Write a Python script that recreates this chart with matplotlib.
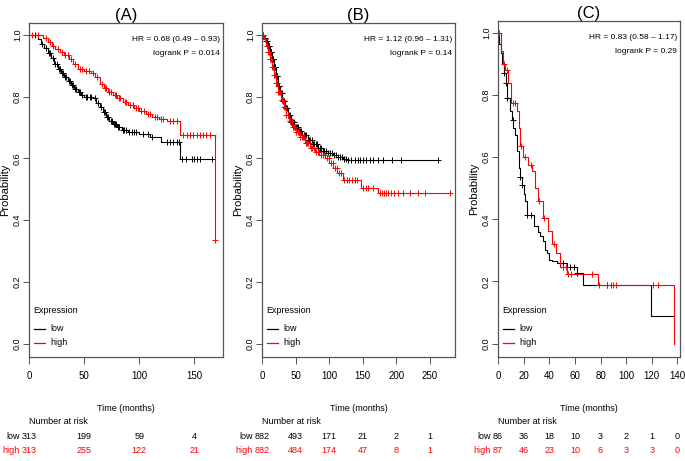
import numpy as np
import matplotlib
matplotlib.use("Agg")
import matplotlib.pyplot as plt
from matplotlib.transforms import blended_transform_factory

NARROW = ["Liberation Sans Narrow", "Liberation Sans", "DejaVu Sans"]
PLAIN = ["Liberation Sans", "DejaVu Sans"]
RED = "#ff0000"
BLACK = "#000000"

# ---- panel A (times in months, survival after each step) ----
a_low_t = [0, 8, 11, 14, 17, 20, 23, 26, 29, 32, 35, 38, 41, 44, 47, 50, 58, 61, 64, 67,
           70, 73, 76, 80, 84, 90, 100, 110, 120, 137]
a_low_s = [1.0, 0.985, 0.97, 0.958, 0.94, 0.925, 0.905, 0.89, 0.875, 0.862, 0.85, 0.838,
           0.826, 0.815, 0.806, 0.800, 0.795, 0.78, 0.765, 0.75, 0.735, 0.722, 0.712, 0.70,
           0.692, 0.686, 0.68, 0.668, 0.653, 0.598]
a_low_cens = [5, 12, 15, 18, 19, 22, 24, 25, 27, 28, 30, 31, 33, 34, 36, 37, 39, 40, 42, 43,
              45, 46, 48, 52, 53, 55, 56, 60, 63, 65, 68, 69, 71, 72, 74, 75, 77, 78, 79, 81,
              82, 85, 86, 88, 91, 93, 95, 97, 103, 108, 112, 125, 128, 131, 134, 136, 139,
              142, 148, 150, 152, 155, 166]
a_low_end = 166
a_high_t = [0, 13, 17, 21, 24, 28, 32, 36, 40, 44, 50, 56, 60, 64, 68, 72, 76, 80, 85, 90,
            95, 100, 106, 112, 118, 125, 137, 169]
a_high_s = [1.0, 0.99, 0.978, 0.965, 0.955, 0.945, 0.935, 0.922, 0.905, 0.89, 0.883, 0.877,
            0.862, 0.84, 0.828, 0.815, 0.806, 0.795, 0.783, 0.772, 0.762, 0.752, 0.742, 0.735,
            0.728, 0.722, 0.676, 0.337]
a_high_cens = [3, 8, 15, 19, 22, 26, 30, 33, 35, 38, 42, 46, 48, 52, 54, 58, 62, 66, 69, 70,
               73, 74, 78, 79, 82, 83, 87, 88, 92, 94, 97, 99, 102, 104, 108, 110, 114, 116,
               120, 122, 128, 131, 134, 140, 143, 146, 149, 152, 155, 158, 161, 164, 169]
a_high_end = 169

# ---- panel B ----
b_low_t = [0, 3, 6, 9, 12, 15, 18, 21, 24, 27, 30, 34, 38, 43, 48, 54, 60, 68, 75, 83, 90,
           98, 105, 113, 120, 128]
b_low_s = [1.0, 0.99, 0.98, 0.965, 0.945, 0.92, 0.895, 0.865, 0.835, 0.81, 0.785, 0.763,
           0.74, 0.718, 0.703, 0.69, 0.676, 0.66, 0.646, 0.634, 0.625, 0.618, 0.611, 0.605,
           0.599, 0.595]
b_low_cens = [2, 4, 6, 8, 10, 11, 13, 14, 16, 17, 19, 20, 22, 23, 25, 26, 28, 29, 31, 32, 33,
              35, 36, 37, 39, 40, 41, 43, 44, 46, 47, 49, 50, 52, 53, 55, 57, 58, 60, 62, 64,
              66, 68, 70, 72, 74, 76, 78, 80, 82, 84, 86, 88, 90, 92, 95, 98, 101, 104, 107,
              110, 113, 116, 119, 122, 125, 128, 133, 138, 143, 145, 150, 155, 160, 165, 173,
              180, 193, 207, 262]
b_low_end = 262
b_high_t = [0, 3, 6, 9, 12, 15, 18, 21, 24, 28, 32, 36, 40, 45, 50, 56, 64, 72, 79, 87, 94,
            100, 106, 112, 120, 147, 172]
b_high_s = [1.0, 0.985, 0.965, 0.945, 0.92, 0.895, 0.87, 0.845, 0.815, 0.79, 0.765, 0.74,
            0.72, 0.70, 0.685, 0.668, 0.65, 0.635, 0.62, 0.61, 0.60, 0.585, 0.57, 0.553,
            0.531, 0.504, 0.488]
b_high_cens = [2, 4, 5, 7, 9, 10, 12, 13, 15, 16, 18, 19, 21, 22, 24, 25, 27, 29, 30, 31, 33,
               34, 36, 38, 39, 41, 42, 44, 46, 48, 49, 51, 53, 55, 57, 59, 61, 63, 65, 67, 69,
               71, 73, 75, 77, 80, 83, 85, 88, 91, 93, 96, 99, 102, 105, 108, 111, 114, 117,
               122, 126, 130, 134, 138, 142, 150, 155, 158, 165, 175, 178, 181, 185, 188,
               192, 197, 202, 210, 220, 232, 242, 279]
b_high_end = 280

# ---- panel C ----
c_low_t = [0, 1, 2, 3, 5, 6, 7, 9, 11, 12, 13, 15, 16, 17, 18.5, 20, 21, 22.5, 28, 31, 33,
           35, 37, 38, 40, 42, 46, 54, 62, 66, 119]
c_low_s = [1.0, 0.965, 0.935, 0.9, 0.87, 0.84, 0.79, 0.75, 0.72, 0.695, 0.67, 0.62, 0.565,
           0.535, 0.51, 0.48, 0.46, 0.415, 0.38, 0.36, 0.345, 0.33, 0.30, 0.29, 0.27, 0.265,
           0.258, 0.245, 0.228, 0.19, 0.09]
c_low_cens = [5, 6, 7, 11.7, 17, 18.8, 22.5, 25.5, 48.5, 51, 56, 59, 62, 85]
c_low_end = 137
c_high_t = [0, 2, 4, 5.5, 8, 10, 14.5, 16, 17, 19.5, 23.5, 26.5, 29, 31.5, 35, 39, 42, 45,
            48.5, 54, 78, 137]
c_high_s = [1.0, 0.94, 0.9, 0.88, 0.84, 0.775, 0.75, 0.695, 0.637, 0.6, 0.575, 0.555, 0.5,
            0.46, 0.405, 0.363, 0.32, 0.29, 0.245, 0.225, 0.19, 0.0]
c_high_cens = [1, 5, 7, 12, 13, 18, 21, 26, 32, 36, 44, 51, 53, 55, 57, 73, 79, 85, 88, 90,
               92, 121, 125]
c_high_end = 137

panels = ["(A)", "(B)", "(C)"]
hr_text = ["HR = 0.68 (0.49 \u2013 0.93)", "HR = 1.12 (0.96 \u2013 1.31)",
           "HR = 0.83 (0.58 \u2013 1.17)"]
p_text = ["logrank P = 0.014", "logrank P = 0.14", "logrank P = 0.29"]
x_ticks = [[0, 50, 100, 150], [0, 50, 100, 150, 200, 250],
           [0, 20, 40, 60, 80, 100, 120, 140]]
x_max = [176, 287, 142]
risk_low = [[313, 199, 59, 4], [882, 493, 171, 21, 2, 1], [86, 36, 18, 10, 3, 2, 1, 0]]
risk_high = [[313, 255, 122, 21], [882, 484, 174, 47, 8, 1], [87, 46, 23, 10, 6, 3, 3, 0]]

curves = [
    [(a_low_t, a_low_s, a_low_cens, a_low_end), (a_high_t, a_high_s, a_high_cens, a_high_end)],
    [(b_low_t, b_low_s, b_low_cens, b_low_end), (b_high_t, b_high_s, b_high_cens, b_high_end)],
    [(c_low_t, c_low_s, c_low_cens, c_low_end), (c_high_t, c_high_s, c_high_cens, c_high_end)],
]

# axes boxes in pixels: left, right, top, bottom
W, H = 685, 461
boxes = [(29, 223, 23, 357), (262, 455, 23, 357), (498, 680, 21, 357)]
FS = 6.5  # size of the small table / legend texts


def km(ax, t, s, cens, t_end, color):
    tt = list(t) + [t_end]
    ss = list(s) + [s[-1]]
    ax.step(tt, ss, where="post", color=color, lw=0.8)
    idx = np.searchsorted(np.array(t), np.array(cens), side="right") - 1
    ax.plot(cens, np.array(s)[idx], "+", color=color, ms=4.5, mew=0.7)


fig = plt.figure(figsize=(W / 100, H / 100), dpi=100)

for i in range(3):
    l, r, t, b = boxes[i]
    wpx = r - l
    ax = fig.add_axes([l / W, 1 - b / H, wpx / W, (b - t) / H])
    ax.set_xlim(0, x_max[i])
    ax.set_ylim(-0.043, 1.038)
    for (tt, ss, cc, te), col in zip(curves[i], [BLACK, RED]):
        km(ax, tt, ss, cc, te, col)

    for sp in ax.spines.values():
        sp.set_color("#555555")
        sp.set_linewidth(0.9)
    ax.set_xticks(x_ticks[i])
    ax.set_yticks([0.0, 0.2, 0.4, 0.6, 0.8, 1.0])
    ax.set_yticklabels(["0.0", "0.2", "0.4", "0.6", "0.8", "1.0"], rotation=90, va="center",
                       family=PLAIN, fontsize=6.5)
    ax.set_xticklabels([str(v) for v in x_ticks[i]], family=NARROW, fontsize=7)
    ax.tick_params(axis="x", length=5, width=0.7, color="#555555", pad=5)
    ax.tick_params(axis="y", length=4.5, width=0.7, color="#555555", pad=0.5)
    ax.text(-24 / wpx, 0.5, "Probability", transform=ax.transAxes, rotation=90,
            ha="center", va="center", family=PLAIN, fontsize=8)
    ax.set_title(panels[i], family=PLAIN, fontsize=12, pad=2)

    ax.text(0.985, 0.952, hr_text[i], transform=ax.transAxes, ha="right", va="center",
            family=NARROW, fontsize=6)
    ax.text(0.985, 0.91, p_text[i], transform=ax.transAxes, ha="right", va="center",
            family=NARROW, fontsize=6)

    # legend drawn in pixel offsets from the axes corner
    ax.text(4 / wpx, 0.138, "Expression", transform=ax.transAxes, va="center",
            family=NARROW, fontsize=FS)
    for yy, lab, col in [(0.084, "low", BLACK), (0.042, "high", RED)]:
        ax.plot([5 / wpx, 16 / wpx], [yy, yy], color=col, lw=0.9, transform=ax.transAxes)
        ax.text(21 / wpx, yy, lab, transform=ax.transAxes, va="center",
                family=NARROW, fontsize=FS)

    # x axis title and number at risk table
    tr = blended_transform_factory(ax.transData, fig.transFigure)
    tra = blended_transform_factory(ax.transAxes, fig.transFigure)
    ax.text(0.5, 1 - 408 / H, "Time (months)", transform=tra, ha="center", va="center",
            family=NARROW, fontsize=FS)
    ax.text(0, 1 - 422 / H, "Number at risk", transform=tra, ha="left", va="center",
            family=NARROW, fontsize=FS)
    # row labels sit just left of the first (centred) count
    for yrow, lab, col, first in [(436, "low", BLACK, risk_low[i][0]),
                                  (450, "high", RED, risk_high[i][0])]:
        half = len(str(first)) * 0.556 * FS * 100 / 72 / 2
        ax.text(-(half + 2) / wpx, 1 - yrow / H, lab, transform=tra, ha="right",
                va="center", family=NARROW, fontsize=FS, color=col)
    for xv, n1, n2 in zip(x_ticks[i], risk_low[i], risk_high[i]):
        ax.text(xv, 1 - 436 / H, str(n1), transform=tr, ha="center", va="center",
                family=NARROW, fontsize=FS)
        ax.text(xv, 1 - 450 / H, str(n2), transform=tr, ha="center", va="center",
                family=NARROW, fontsize=FS, color=RED)

fig.savefig("out.png", dpi=100)
